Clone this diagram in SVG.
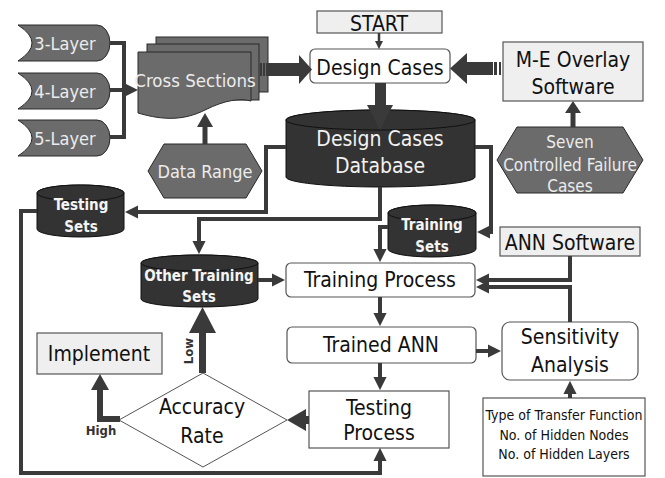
<svg xmlns="http://www.w3.org/2000/svg" width="665" height="478" viewBox="0 0 665 478">
<defs>
<style>
text{font-family:"DejaVu Sans Condensed","DejaVu Sans",sans-serif;font-stretch:condensed;text-anchor:middle}
.t{font-size:21px;fill:#111}
.lt{font-size:18px;fill:#ececec}
.bw{font-size:15px;font-weight:bold;fill:#f4f4f4}
.sm{font-size:14px;fill:#111}
.lab{font-size:13px;font-weight:bold;fill:#333}
.gray{fill:#6b6b6b;stroke:#2a2a2a;stroke-width:1}
.light{fill:#efefef;stroke:#555;stroke-width:1.2}
.white{fill:#fff;stroke:#555;stroke-width:1.2}
.cyl{fill:#333;stroke:#111;stroke-width:1}
.ln{fill:none;stroke:#3a3a3a;stroke-width:4}
.thk{fill:#3a3a3a}
</style>
<marker id="ah" viewBox="0 0 10 10" refX="4" refY="5" markerWidth="3.4" markerHeight="3.4" orient="auto" markerUnits="strokeWidth">
<path d="M0,0 L10,5 L0,10 Z" fill="#3a3a3a"/>
</marker>
</defs>

<g id="start"><rect class="light" x="317" y="11" width="125" height="22"/><text class="t" x="379" y="31">START</text></g>
<g id="design-cases"><rect class="white" x="310" y="49" width="140" height="34" rx="5"/><text class="t" x="380" y="75">Design Cases</text></g>
<g id="me-overlay"><rect class="light" x="503" y="42" width="140" height="59"/><text class="t" x="573" y="67">M-E Overlay</text><text class="t" x="573" y="94">Software</text></g>

<g id="cross-sections">
<rect class="gray" x="156" y="37" width="112" height="55"/>
<rect class="gray" x="147" y="44" width="112" height="56"/>
<path class="gray" d="M138,52 H251 V101 C240,98 225,100 205,110 C185,120 165,121 138,113 Z"/>
<text class="lt" x="195" y="87" style="font-size:18.5px">Cross Sections</text>
</g>
<g id="layer3"><path class="gray" d="M18,25 H97 A13,18 0 0 1 97,61 H18 Q46,43 18,25 Z"/><text class="lt" x="65" y="50">3-Layer</text></g>
<g id="layer4"><path class="gray" d="M18,73 H97 A13,18 0 0 1 97,109 H18 Q46,91 18,73 Z"/><text class="lt" x="65" y="98">4-Layer</text></g>
<g id="layer5"><path class="gray" d="M18,120 H97 A13,18 0 0 1 97,156 H18 Q46,138 18,120 Z"/><text class="lt" x="65" y="145">5-Layer</text></g>
<g id="data-range"><polygon class="gray" points="148,171 164,144 246,144 262,171 246,198 164,198"/><text class="lt" x="205" y="178">Data Range</text></g>
<g id="seven-cases"><polygon class="gray" points="497,160 517,127 623,127 643,160 623,193 517,193"/><text class="lt" x="570" y="148" style="font-size:17px">Seven</text><text class="lt" x="570" y="171" style="font-size:17px">Controlled Failure</text><text class="lt" x="570" y="192" style="font-size:17px">Cases</text></g>

<g id="database"><path class="cyl" d="M286,120 A94.5,10 0 0 1 475,120 V177 A94.5,10 0 0 1 286,177 Z"/><ellipse cx="380.5" cy="120" rx="94.5" ry="10" fill="#333" stroke="#111"/><text class="t" x="380" y="146" style="fill:#f2f2f2">Design Cases</text><text class="t" x="380" y="173" style="fill:#f2f2f2">Database</text></g>
<g id="testing-sets"><path class="cyl" d="M37,193 A43.5,8 0 0 1 124,193 V229 A43.5,8 0 0 1 37,229 Z"/><ellipse cx="80.5" cy="193" rx="43.5" ry="8" fill="#333" stroke="#111"/><text class="bw" x="81" y="210">Testing</text><text class="bw" x="81" y="232">Sets</text></g>
<g id="training-sets"><path class="cyl" d="M388,213 A44,8 0 0 1 476,213 V249 A44,8 0 0 1 388,249 Z"/><ellipse cx="432" cy="213" rx="44" ry="8" fill="#333" stroke="#111"/><text class="bw" x="432" y="230">Training</text><text class="bw" x="432" y="252">Sets</text></g>
<g id="other-training-sets"><path class="cyl" d="M141,263 A58.5,8 0 0 1 258,263 V299 A58.5,8 0 0 1 141,299 Z"/><ellipse cx="199.5" cy="263" rx="58.5" ry="8" fill="#333" stroke="#111"/><text class="bw" x="199" y="281">Other Training</text><text class="bw" x="199" y="302">Sets</text></g>

<g id="training-process"><rect class="white" x="286" y="263" width="189" height="34" rx="5"/><text class="t" x="380" y="287">Training Process</text></g>
<g id="ann-software"><rect class="light" x="500" y="227" width="140" height="29"/><text class="t" x="570" y="250">ANN Software</text></g>
<g id="trained-ann"><rect class="white" x="287" y="327" width="189" height="36" rx="5"/><text class="t" x="381" y="352">Trained ANN</text></g>
<g id="sensitivity"><rect class="white" x="502" y="322" width="136" height="58" rx="8"/><text class="t" x="570" y="344">Sensitivity</text><text class="t" x="570" y="372">Analysis</text></g>
<g id="testing-process"><rect class="white" x="309" y="391" width="140" height="57"/><text class="t" x="379" y="415">Testing</text><text class="t" x="379" y="440">Process</text></g>
<g id="params"><rect class="white" x="483" y="398" width="162" height="78"/><text class="sm" x="564" y="420">Type of Transfer Function</text><text class="sm" x="564" y="440">No. of Hidden Nodes</text><text class="sm" x="564" y="459">No. of Hidden Layers</text></g>
<g id="implement"><rect class="light" x="37" y="333" width="125" height="41"/><text class="t" x="99" y="361">Implement</text></g>
<g id="accuracy"><polygon points="119,420 203,373 287,420 203,467" fill="#fff" stroke="#555" stroke-width="1"/><text class="t" x="202" y="414">Accuracy</text><text class="t" x="202" y="443">Rate</text></g>

<g id="connectors">
<path class="ln" d="M110,43 H124 V137 H110"/>
<path class="ln" d="M110,90 H130" marker-end="url(#ah)"/>
<path class="ln" d="M379,33 V44" style="stroke-width:2.5" marker-end="url(#ah)"/>
<path class="ln" d="M205,144 V126" style="stroke-width:5"/>
<polygon class="thk" points="197,127 205,113 213,127"/>
<path class="ln" d="M573,127 V112" style="stroke-width:5"/>
<polygon class="thk" points="565,113 573,101 581,113"/>
<rect class="thk" x="260" y="63" width="2" height="13"/><rect class="thk" x="263" y="63" width="2" height="13"/>
<rect class="thk" x="266" y="63" width="34" height="13"/>
<polygon class="thk" points="299,55 312,69.5 299,84"/>
<rect class="thk" x="494" y="62" width="3" height="13"/><rect class="thk" x="499" y="62" width="2" height="13"/>
<rect class="thk" x="466" y="62" width="27" height="13"/>
<polygon class="thk" points="467,53 450,68.5 467,84"/>
<rect class="thk" x="375" y="83" width="11" height="23"/>
<polygon class="thk" points="367,105 393,105 380,130"/>
<path class="ln" d="M286,147 H266 V212 H133" marker-end="url(#ah)"/>
<path class="ln" d="M475,147 H491 V232 H485" marker-end="url(#ah)"/>
<path class="ln" d="M380,187 V219 H199 V246" marker-end="url(#ah)"/>
<path class="ln" d="M388,227 H380 V254" marker-end="url(#ah)"/>
<path class="ln" d="M258,280 H277" marker-end="url(#ah)"/>
<path class="ln" d="M570,256 V280 H484" marker-end="url(#ah)"/>
<path class="ln" d="M570,322 V287 H484" marker-end="url(#ah)"/>
<path class="ln" d="M380,297 V318" marker-end="url(#ah)"/>
<path class="ln" d="M476,351 H493" marker-end="url(#ah)"/>
<path class="ln" d="M380,363 V382" marker-end="url(#ah)"/>
<path class="ln" d="M570,398 V389" marker-end="url(#ah)"/>
<path class="ln" d="M37,211 H21 V473 H380 V456" marker-end="url(#ah)"/>
<rect class="thk" x="300" y="416" width="9" height="8"/>
<polygon class="thk" points="306,409 287,420 306,431"/>
<rect class="thk" x="199" y="330" width="7" height="43"/>
<polygon class="thk" points="189,333 202.5,307 216,333"/>
<path d="M120,419 H100 V388" fill="none" stroke="#3a3a3a" stroke-width="6"/>
<polygon class="thk" points="91,390 100,374 109,390"/>
<text class="lab" transform="translate(193,351) rotate(-90)">Low</text>
<text class="lab" x="101" y="435">High</text>
</g>
</svg>
